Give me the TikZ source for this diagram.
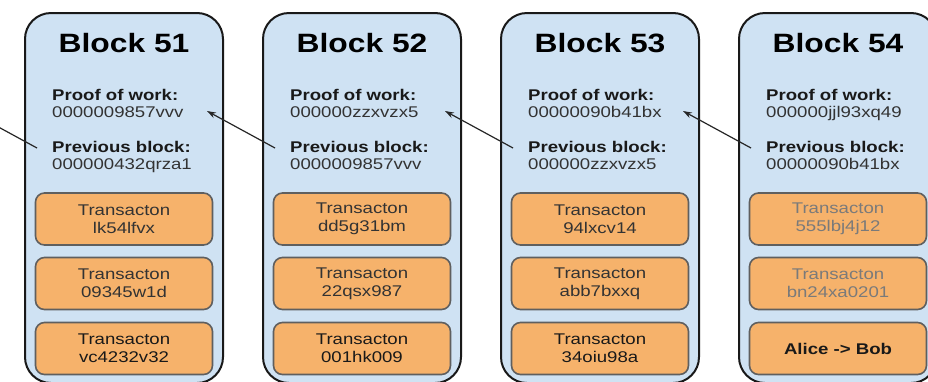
\documentclass[tikz,border=0pt]{standalone}
\usepackage{fontspec}
\setmainfont{Liberation Sans}[FakeStretch=1.2]
\definecolor{blockblue}{HTML}{CFE2F3}
\definecolor{txorange}{HTML}{F6B26B}
\definecolor{txline}{HTML}{5F5F5F}
\definecolor{valgrey}{HTML}{333333}
\definecolor{fadegrey}{HTML}{7A7A7A}
\usetikzlibrary{arrows.meta}
\tikzset{
  block/.style={draw=black!90,line width=2pt,fill=blockblue,rounded corners=26pt,
    minimum width=198pt,minimum height=370pt,inner sep=0pt},
  title/.style={anchor=base,inner sep=0pt,font=\fontsize{26.5}{30}\selectfont\bfseries},
  field/.style={anchor=base west,inner sep=0pt,font=\fontsize{15.5}{18}\selectfont\bfseries,text=black!90},
  fieldval/.style={anchor=base west,inner sep=0pt,font=\fontsize{15.5}{18}\selectfont,text=valgrey},
  txbox/.style={draw=txline,line width=1.6pt,fill=txorange,rounded corners=9pt,
    minimum width=177pt,minimum height=52pt,align=center,inner sep=0pt,
    font=\fontsize{15.5}{18}\selectfont,text=valgrey},
  link/.style={draw=black!85,line width=1.2pt,-{Stealth[length=9pt,width=6pt]}}
}
\begin{document}
\begin{tikzpicture}[x=1pt,y=-1pt]
\useasboundingbox (0,0) rectangle (928,381);
\clip (0,0) rectangle (928,381);
\foreach \n/\pw/\pb/\ta/\tb/\tc/\fc [count=\i from 0, evaluate=\i as \x using 25+238*\i] in {
  51/0000009857vvv/000000432qrza1/{Transacton\\lk54lfvx}/{Transacton\\09345w1d}/{Transacton\\vc4232v32}/valgrey,
  52/000000zzxvzx5/0000009857vvv/{Transacton\\dd5g31bm}/{Transacton\\22qsx987}/{Transacton\\001hk009}/valgrey,
  53/00000090b41bx/000000zzxvzx5/{Transacton\\94lxcv14}/{Transacton\\abb7bxxq}/{Transacton\\34oiu98a}/valgrey,
  54/000000jjl93xq49/00000090b41bx/{Transacton\\555lbj4j12}/{Transacton\\bn24xa0201}/{\textbf{Alice -> Bob}}/fadegrey}
{
  \node[block] (b\n) at (\x+99,198) {};
  \node[title] (t\n) at (\x+99,52) {Block \n};
  \node[field] (pwl\n) at (\x+27,100) {Proof of work:};
  \node[fieldval] (pw\n) at (\x+27,117) {\pw};
  \node[field] (pbl\n) at (\x+27,152) {Previous block:};
  \node[fieldval] (pb\n) at (\x+27,169) {\pb};
  \node[txbox,text=\fc] (txa\n) at (\x+99,219) {\ta};
  \node[txbox,text=\fc] (txb\n) at (\x+99,283.5) {\tb};
  \node[txbox,text=black!90] (txc\n) at (\x+99,348.5) {\tc};
  \coordinate (head\n) at (\x+182,111);
  \coordinate (tail\n) at (\x+12,148);
}
\coordinate (head50) at (-31,111);
\draw[link] (tail51) -- (head50);
\draw[link] (tail52) -- (head51);
\draw[link] (tail53) -- (head52);
\draw[link] (tail54) -- (head53);
\end{tikzpicture}
\end{document}
